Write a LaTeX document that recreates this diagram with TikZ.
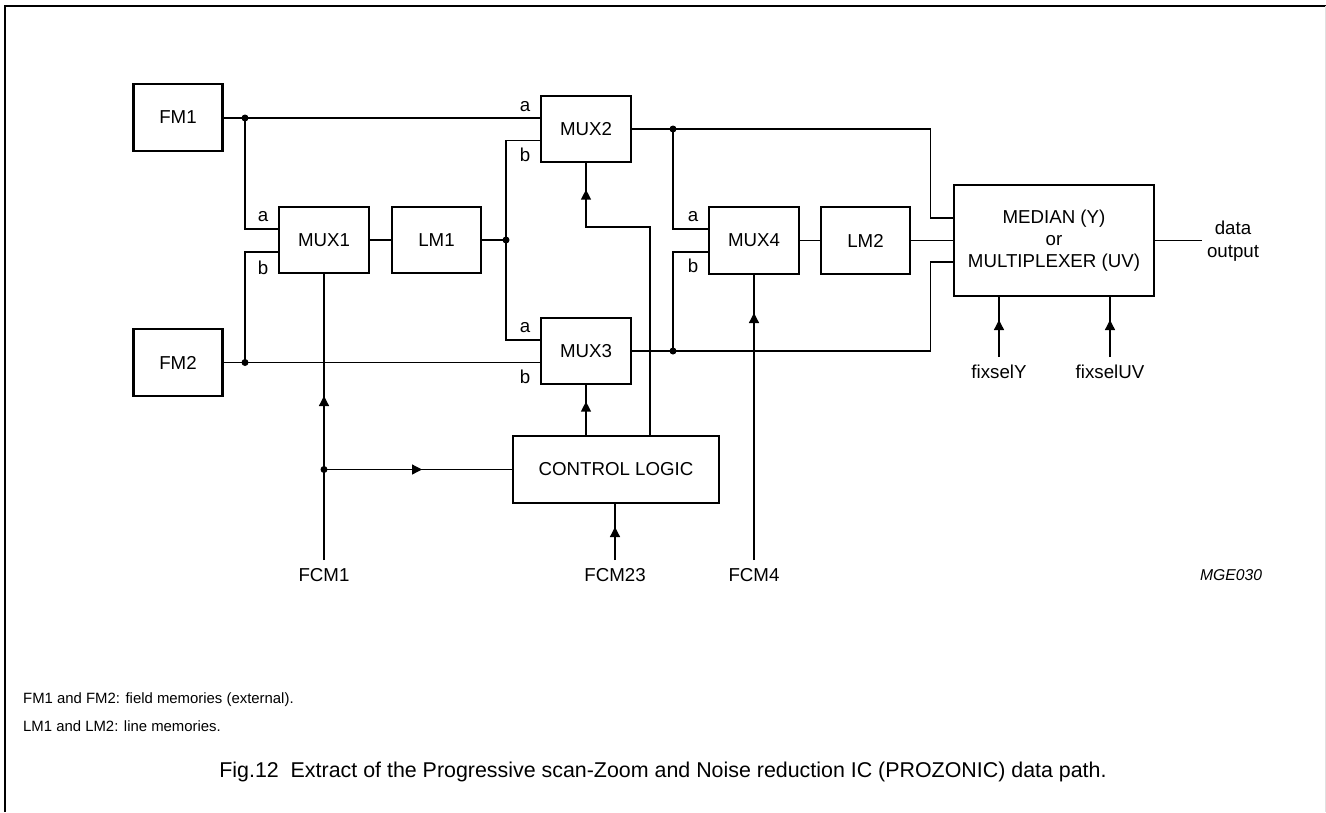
\documentclass[tikz,border=0pt]{standalone}
\usepackage{fontspec}
\setmainfont{Liberation Sans}
\usetikzlibrary{arrows.meta,decorations.markings,calc}
\begin{document}
\begin{tikzpicture}[x=1pt,y=-1pt,
  box/.style={draw,line width=2.8pt,inner sep=0pt,font=\fontsize{18.7}{22}\selectfont,align=center},
  wire/.style={line width=1.3pt},
  lbl/.style={font=\fontsize{18.7}{23}\selectfont,inner sep=0pt,align=center},
  jdot/.style={circle,fill,inner sep=0pt,minimum size=7pt},
  arrowat/.style={postaction={decorate},decoration={markings,mark=at position #1 with {\arrow{Triangle[length=10pt,width=10pt]}}}}
]
\useasboundingbox (0,0) rectangle (1326,812);
% frame
\draw[line width=2pt] (5,812) -- (5,6) -- (1326,6);
\draw[line width=1pt,black!12] (1325,6) -- (1325,812);

% boxes
\node[box,minimum width=89pt,minimum height=67pt] (fm1) at (178,117.5) {FM1};
\node[box,minimum width=89pt,minimum height=67pt] (fm2) at (178,362.5) {FM2};
\node[box,minimum width=90pt,minimum height=66pt] (mux1) at (324,240) {MUX1};
\node[box,minimum width=89pt,minimum height=66pt] (lm1) at (436.5,240) {LM1};
\node[box,minimum width=90pt,minimum height=66pt] (mux2) at (586,129) {MUX2};
\node[box,minimum width=90pt,minimum height=66pt] (mux3) at (586,351) {MUX3};
\node[box,minimum width=90pt,minimum height=67pt] (mux4) at (754,240.5) {MUX4};
\node[box,minimum width=89pt,minimum height=67pt] (lm2) at (865.5,240.5) {LM2};
\node[box,minimum width=200pt,minimum height=111pt] (med) at (1054,240.5) {MEDIAN (Y)\\or\\MULTIPLEXER (UV)};
\node[box,minimum width=206pt,minimum height=67pt] (ctl) at (616,469.5) {CONTROL LOGIC};

% junctions
\node[jdot] (j1) at (245,118) {};
\node[jdot] (j2) at (245,362.5) {};
\node[jdot] (j3) at (506,240) {};
\node[jdot] (j4) at (673,129) {};
\node[jdot] (j5) at (673,351) {};
\node[jdot] (j6) at (mux1.south |- ctl.west) {};

% free ends
\coordinate (fcm1end) at (324,560);
\coordinate (fcm23end) at (615,560);
\coordinate (fcm4end) at (754,560);
\coordinate (fixyend) at (999,357);
\coordinate (fixuvend) at (1110,357);
\coordinate (doutend) at (1202,240.5);

% labels
\node[lbl] (la1) at (263,217) {a};
\node[lbl] (lb1) at (263,268) {b};
\node[lbl] (la2) at (525,107) {a};
\node[lbl] (lb2) at (525,155) {b};
\node[lbl] (la3) at (525,328) {a};
\node[lbl] (lb3) at (525,377) {b};
\node[lbl] (la4) at (693,217) {a};
\node[lbl] (lb4) at (693,266) {b};
\node[lbl] (fcm1) at (324,575) {FCM1};
\node[lbl] (fcm23) at (615,575) {FCM23};
\node[lbl] (fcm4) at (754,575) {FCM4};
\node[lbl] (fixy) at (999,372) {fixselY};
\node[lbl] (fixuv) at (1110,372) {fixselUV};
\node[lbl] (dout) at (1233,241.5) {data\\output};
\node[font=\itshape\fontsize{15.7}{18}\selectfont,inner sep=0pt] (mge) at (1231,575) {MGE030};
\node[anchor=west,font=\fontsize{14.9}{18}\selectfont,inner sep=0pt] (fn1) at (23,700) {FM1 and FM2: field memories (external).};
\node[anchor=west,font=\fontsize{14.9}{18}\selectfont,inner sep=0pt] (fn2) at (23,726) {LM1 and LM2: line memories.};
\node[font=\fontsize{21.4}{24}\selectfont,inner sep=0pt] (cap) at (663,772) {Fig.12\ \ Extract of the Progressive scan-Zoom and Noise reduction IC (PROZONIC) data path.};

% data wires
\draw[wire] (fm1.east |- j1) -- (j1.center) -- (mux2.west |- j1);
\draw[wire] (j1.center) |- ($(mux1.west)+(0,-11)$);
\draw[wire] (fm2.east |- j2) -- (j2.center) -- (mux3.west |- j2);
\draw[wire] (j2.center) |- ($(mux1.west)+(0,12)$);
\draw[wire] (mux1.east) -- (lm1.west);
\draw[wire] (lm1.east) -- (j3.center);
\draw[wire] ($(mux2.west)+(0,11.5)$) -| (j3.center) |- ($(mux3.west)+(0,-11)$);
\draw[wire] (mux2.east) -- (j4.center) -| ($(med.west)+(-22,-22.5)$) -- ($(med.west)+(0,-22.5)$);
\draw[wire] (j4.center) |- ($(mux4.west)+(0,-11.5)$);
\draw[wire] (mux3.east) -- (j5.center) -| ($(med.west)+(-22,21.5)$) -- ($(med.west)+(0,21.5)$);
\draw[wire] (j5.center) |- ($(mux4.west)+(0,11.5)$);
\draw[wire] (mux4.east) -- (lm2.west);
\draw[wire] (lm2.east) -- (med.west);
\draw[wire] (med.east) -- (doutend);

% control wires
\draw[wire,arrowat=164pt] (fcm1end) -- (mux1.south);
\draw[wire,arrowat=98pt] (j6.center) -- (ctl.west);
\draw[wire,arrowat=33pt] (ctl.north -| mux3.south) -- (mux3.south);
\draw[wire,arrowat=309pt] ($(ctl.north)+(34,0)$) -- ++(0,-207.5) -| (mux2.south);
\draw[wire,arrowat=33pt] (fcm23end) -- (ctl.south -| fcm23end);
\draw[wire,arrowat=247pt] (fcm4end) -- (mux4.south);
\draw[wire,arrowat=37pt] (fixyend) -- (med.south -| fixyend);
\draw[wire,arrowat=37pt] (fixuvend) -- (med.south -| fixuvend);
\end{tikzpicture}
\end{document}
